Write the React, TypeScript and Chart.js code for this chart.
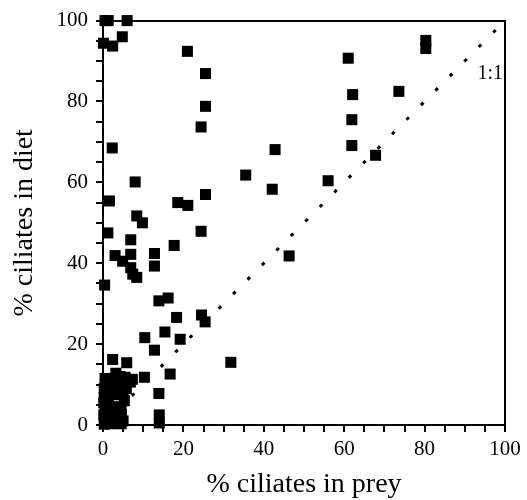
import React, { useEffect, useRef } from "react";
import { Chart, registerables } from "chart.js";

Chart.register(...registerables);

// % ciliates in prey (x) and % ciliates in diet (y)
const preyPct: number[] = [
  0.5, 1.3, 6, 4.8, 0.1, 2.4, 21, 25.5, 25.5, 24.4, 2.3,
  8, 35.5, 1.6, 25.5, 18.6, 21.1, 8.4, 9.8, 24.4, 1.2, 6.9, 17.7, 3.0, 6.9, 12.8, 4.9, 6.9, 12.8, 7.4, 8.4, 0.4, 13.9, 16.2,
  80.3, 80.3, 61, 62.1, 73.6, 61.9, 61.9, 67.8, 42.8, 42.1, 56, 46.3,
  18.3, 24.5, 25.4, 10.4, 15.4, 19.2, 12.8, 31.8, 2.4, 5.9, 10.3, 16.7, 13.9, 14, 14, 5.3, 7.3,
  3.2, 1.8, 4.3, 5.5, 6.8, 3.0, 0.8, 2.2, 4.5, 5.8, 1.0, 3.5, 0.3, 1.3, 4.5, 0.5, 2.8, 1.5, 3.8, 0.2, 2.0, 4.2, 0.8, 1.8, 3.0, 4.5, 0.3, 1.2, 3.2, 1.0,
  0.5, 2.5, 4.8, 1.5, 3.2, 4.0, 0.3, 1.0, 2.5, 3.8, 4.6, 2.0, 3.8, 5.0, 0.2, 1.8, 3.3, 5.0,
];
const dietPct: number[] = [
  100, 100, 100, 96, 94.4, 93.7, 92.4, 86.9, 78.8, 73.7, 68.5,
  60.1, 61.8, 55.4, 57.0, 55.0, 54.3, 51.7, 50, 47.9, 47.5, 45.8, 44.4, 41.9, 42.2, 42.4, 40.5, 38.9, 39.3, 37.3, 36.5, 34.6, 30.7, 31.4,
  95.1, 93.1, 90.7, 81.7, 82.5, 75.5, 69.1, 66.7, 68.1, 58.3, 60.4, 41.8,
  26.6, 27.2, 25.5, 21.6, 23.0, 21.2, 18.5, 15.5, 16.2, 15.4, 11.8, 12.6, 7.8, 2.5, 0.5, 6.0, 11.3,
  12.8, 11.5, 12.0, 11.8, 10.6, 10.5, 10.2, 9.0, 9.3, 9.0, 8.0, 8.0, 6.8, 5.5, 4.5, 4.5, 4.0, 3.0, 3.0, 2.5, 1.8, 1.5, 0.8, 0.3, 0.5, 0.3, 0.2, 1.8, 2.3, 7.2,
  11.5, 11.0, 10.8, 9.5, 9.8, 7.5, 9.0, 3.5, 2.8, 4.5, 2.5, 0.8, 1.0, 1.0, 5.5, 7.5, 8.8, 7.8,
];

const oneToOneX: number[] = [0, 100];
const oneToOneY: number[] = [0, 100];
const oneToOneLabel = "1:1";
const labelPos = { x: 99.5, y: 86.8 };

const axisMin = 0;
const axisMax = 100;
const tickStep = 5;
const labelStep = 20;

const xTitle = "% ciliates in prey";
const yTitle = "% ciliates in diet";

const FONT = '"Liberation Serif", "DejaVu Serif", serif';

export default function App() {
  const ref = useRef<HTMLCanvasElement | null>(null);

  useEffect(() => {
    if (!ref.current) return;
    Chart.defaults.color = "#000";

    const labelPlugin = {
      id: "oneToOneLabel",
      afterDraw(chart: any) {
        const ctx = chart.ctx;
        const xs = chart.scales.x;
        const ys = chart.scales.y;
        ctx.save();
        ctx.fillStyle = "#000";
        ctx.font = `20px ${FONT}`;
        ctx.textAlign = "right";
        ctx.textBaseline = "middle";
        ctx.fillText(oneToOneLabel, xs.getPixelForValue(labelPos.x), ys.getPixelForValue(labelPos.y));
        ctx.restore();
      },
    };

    const tickCb = (v: any) => (Number(v) % labelStep === 0 ? String(v) : "");

    const frameAxis = (position: string, axis: string, fit: (s: any) => void) => ({
      type: "linear",
      position,
      axis,
      min: axisMin,
      max: axisMax,
      grid: { display: false, drawTicks: false },
      border: { display: true, color: "#000", width: 2 },
      ticks: { display: false },
      afterFit: fit,
    });

    const chart = new Chart(ref.current, {
      type: "scatter",
      data: {
        datasets: [
          {
            type: "line",
            data: oneToOneX.map((x, i) => ({ x, y: oneToOneY[i] })),
            borderColor: "#000",
            borderWidth: 3,
            borderDash: [3.5, 17],
            pointRadius: 0,
            fill: false,
            order: 2,
          } as any,
          {
            type: "scatter",
            data: preyPct.map((x, i) => ({ x, y: dietPct[i] })),
            pointStyle: "rect",
            pointRadius: 7.8,
            backgroundColor: "#000",
            borderColor: "#000",
            borderWidth: 0,
            clip: false,
            order: 1,
          } as any,
        ],
      },
      options: {
        responsive: false,
        animation: false,
        layout: { padding: { left: 0, top: 20, right: 22, bottom: 0 } },
        plugins: { legend: { display: false }, tooltip: { enabled: false } },
        scales: {
          x: {
            type: "linear",
            position: "bottom",
            min: axisMin,
            max: axisMax,
            grid: { drawOnChartArea: false, drawTicks: true, tickLength: 7, color: "#000", lineWidth: 2 },
            border: { display: true, color: "#000", width: 2 },
            ticks: {
              stepSize: tickStep,
              autoSkip: false,
              maxRotation: 0,
              callback: tickCb,
              font: { size: 21, family: FONT },
              color: "#000",
              padding: 5,
            },
            title: {
              display: true,
              text: xTitle,
              font: { size: 28, family: FONT },
              color: "#000",
              padding: { top: 0, bottom: -1 },
            },
            afterFit(s: any) {
              s.height = 75;
            },
          },
          y: {
            type: "linear",
            position: "left",
            min: axisMin,
            max: axisMax,
            grid: { drawOnChartArea: false, drawTicks: true, tickLength: 7, color: "#000", lineWidth: 2 },
            border: { display: true, color: "#000", width: 2 },
            ticks: {
              stepSize: tickStep,
              autoSkip: false,
              callback: tickCb,
              font: { size: 21, family: FONT },
              color: "#000",
              padding: 8,
            },
            title: {
              display: true,
              text: yTitle,
              font: { size: 28, family: FONT },
              color: "#000",
              padding: { top: 8, bottom: 0 },
            },
            afterFit(s: any) {
              s.width = 103;
            },
          },
          xTop: frameAxis("top", "x", (s: any) => {
            s.height = 0;
          }) as any,
          yRight: frameAxis("right", "y", (s: any) => {
            s.width = 0;
          }) as any,
        },
      },
      plugins: [labelPlugin],
    });
    return () => chart.destroy();
  }, []);

  return (
    <div style={{ position: "absolute", left: 0, top: 0, width: 527, height: 500, background: "#fff" }}>
      <canvas ref={ref} width={527} height={500} />
    </div>
  );
}
